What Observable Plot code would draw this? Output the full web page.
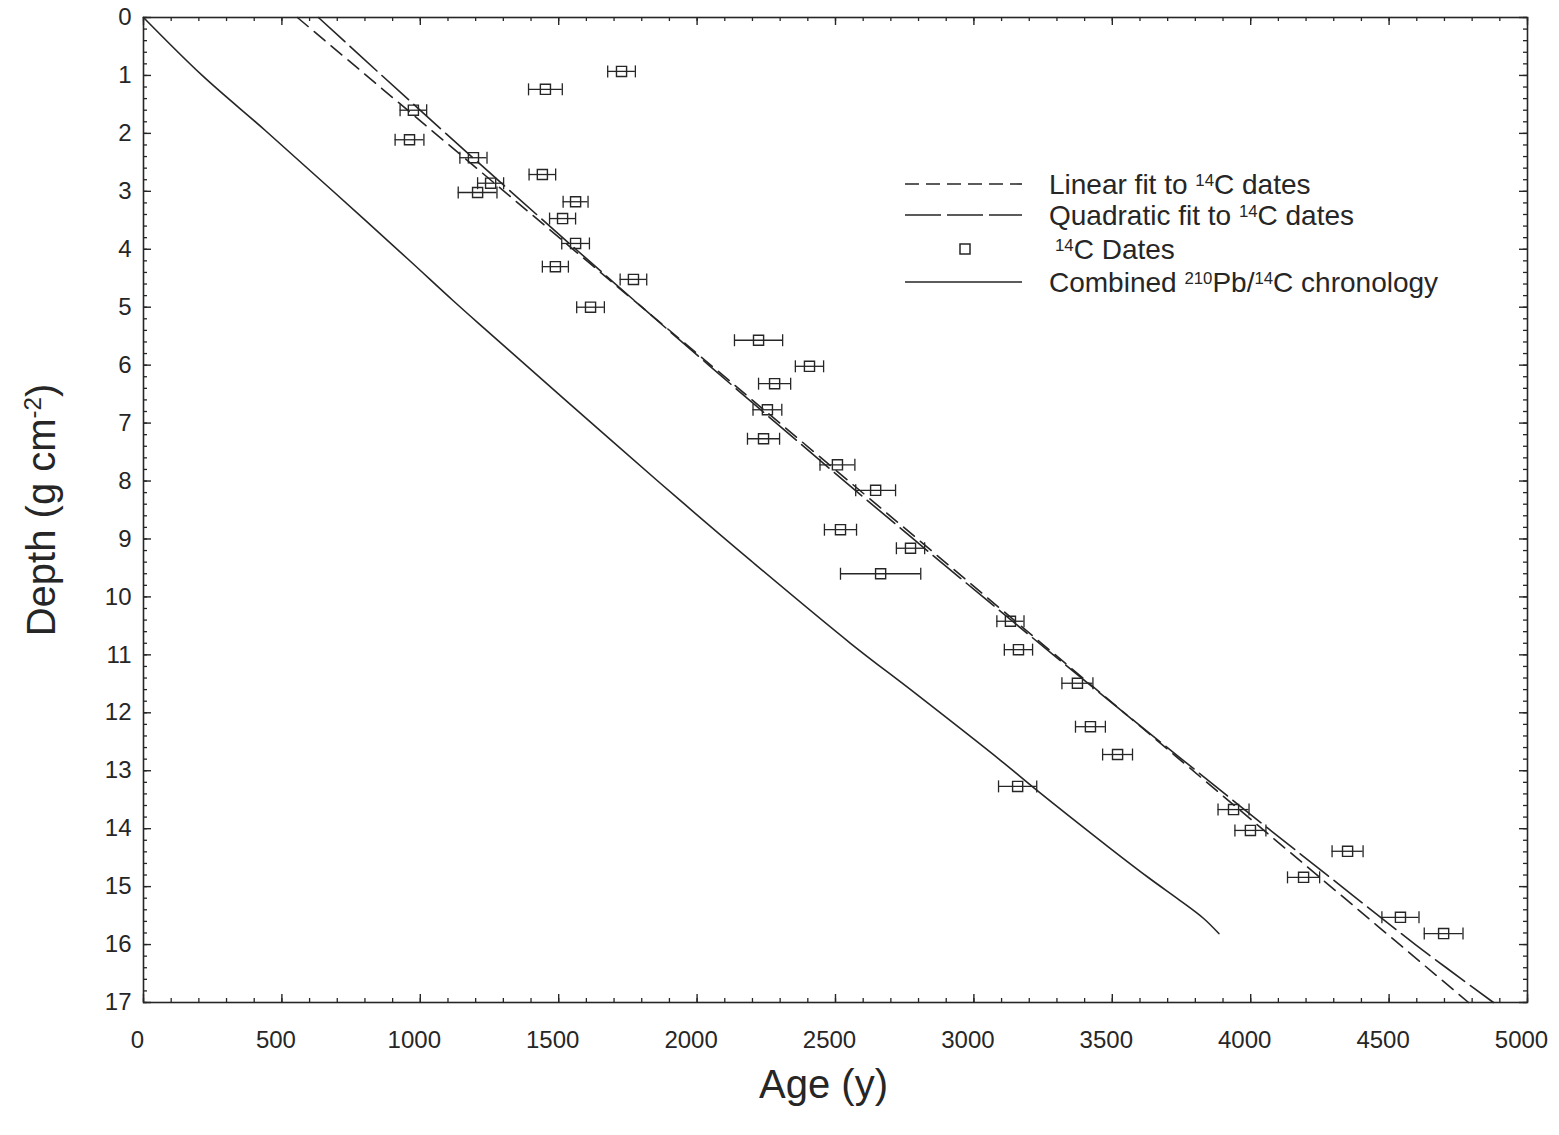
<!DOCTYPE html>
<html><head><meta charset="utf-8">
<script src="https://cdn.jsdelivr.net/npm/d3@7"></script>
<script src="https://cdn.jsdelivr.net/npm/@observablehq/plot@0.6"></script>
<style>
body{margin:0;background:#fff;}
#wrap{position:relative;width:1559px;height:1135px;overflow:hidden;}
#legend{position:absolute;left:0;top:0;pointer-events:none;}
</style></head><body><div id="wrap"></div>
<script>
// 14C dates: depth (g cm-2), age (y), half-width of error bar (y)
const c14Depth = [0.93, 1.24, 1.60, 2.11, 2.42, 2.71, 2.86, 3.02, 3.18, 3.47, 3.90, 4.30, 4.52, 5.00,
  5.57, 6.02, 6.32, 6.77, 7.27, 7.72, 8.16, 8.84, 9.16, 9.60, 10.42, 10.91, 11.49, 12.24, 12.72,
  13.27, 13.67, 14.03, 14.39, 14.84, 15.53, 15.81];
const c14Age = [1727, 1452, 975, 961, 1192, 1441, 1254, 1207, 1561, 1514, 1561, 1488, 1770, 1615,
  2222, 2406, 2280, 2254, 2240, 2507, 2645, 2518, 2771, 2663, 3132, 3161, 3374, 3421, 3519,
  3158, 3938, 3999, 4350, 4191, 4541, 4697];
const c14Err = [50, 61, 48, 52, 49, 48, 47, 70, 45, 47, 50, 47, 48, 50,
  87, 51, 58, 52, 58, 63, 72, 58, 51, 145, 49, 51, 56, 54, 54,
  69, 56, 56, 56, 58, 67, 70];

// Linear fit to 14C dates
const linearDepth = [0, 8.5, 17];
const linearAge = [556, 2672, 4787];
// Quadratic fit to 14C dates
const quadDepth = [0, 1, 2, 3, 4, 5, 6, 7, 8, 9, 10, 11, 12, 13, 14, 15, 16, 17];
const quadAge = [632, 861, 1092, 1326, 1562, 1801, 2042, 2286, 2532, 2781, 3033, 3287, 3543, 3803, 4064, 4329, 4595, 4877];
// Combined 210Pb/14C chronology
const combDepth = [0, 1.0, 1.95, 3.02, 4.19, 4.88, 5.37, 5.75, 7.30, 8.34, 9.37, 10.8, 11.67, 12.82, 13.27, 14.33, 14.86, 15.24, 15.55, 15.81];
const combAge = [0, 212, 440, 690, 960, 1117, 1232, 1322, 1690, 1940, 2193, 2554, 2790, 3096, 3210, 3490, 3635, 3745, 3830, 3885];

const xTickLabels = [0, 500, 1000, 1500, 2000, 2500, 3000, 3500, 4000, 4500, 5000];
const yTickLabels = [0, 1, 2, 3, 4, 5, 6, 7, 8, 9, 10, 11, 12, 13, 14, 15, 16, 17];

const dates = c14Depth.map((d, i) => ({depth: d, age: c14Age[i], err: c14Err[i]}));
const linear = linearDepth.map((d, i) => ({depth: d, age: linearAge[i]}));
const quad = quadDepth.map((d, i) => ({depth: d, age: quadAge[i]}));
const comb = combDepth.map((d, i) => ({depth: d, age: combAge[i]}));

const W = 1559, H = 1135, mL = 143, mR = 32, mT = 17, mB = 133;
const innerW = W - mL - mR, innerH = H - mT - mB;
const ink = "#262626";
const tickFont = "'Liberation Sans Narrow','Arial Narrow','Liberation Sans',Arial,sans-serif";
const mainFont = "'Liberation Sans',Arial,Helvetica,sans-serif";

const minorX = d3.range(0, 5001, 100);
const minorY = d3.range(0, 17.001, 0.2);

const capSymbol = {draw(ctx) { ctx.moveTo(0, -6); ctx.lineTo(0, 6); }};

const chart = Plot.plot({
  width: W, height: H,
  marginLeft: mL, marginRight: mR, marginTop: mT, marginBottom: mB,
  style: {fontFamily: mainFont, background: "#fff", color: ink},
  x: {domain: [0, 5000]},
  y: {domain: [0, 17], reverse: true},
  marks: [
    // inward ticks on all four sides
    Plot.tickX(minorX, {x: d => d, insetTop: innerH - 4, stroke: ink, strokeWidth: 1.3}),
    Plot.tickX(minorX, {x: d => d, insetBottom: innerH - 4, stroke: ink, strokeWidth: 1.3}),
    Plot.tickX(xTickLabels, {x: d => d, insetTop: innerH - 8, stroke: ink, strokeWidth: 1.4}),
    Plot.tickX(xTickLabels, {x: d => d, insetBottom: innerH - 8, stroke: ink, strokeWidth: 1.4}),
    Plot.tickY(minorY, {y: d => d, insetRight: innerW - 4, stroke: ink, strokeWidth: 1.3}),
    Plot.tickY(minorY, {y: d => d, insetLeft: innerW - 4, stroke: ink, strokeWidth: 1.3}),
    Plot.tickY(yTickLabels, {y: d => d, insetRight: innerW - 8, stroke: ink, strokeWidth: 1.4}),
    Plot.tickY(yTickLabels, {y: d => d, insetLeft: innerW - 8, stroke: ink, strokeWidth: 1.4}),
    Plot.axisX({ticks: xTickLabels, tickFormat: d => String(d), tickSize: 0, tickPadding: 28, dx: -6, label: null,
      fontSize: 24, fontFamily: tickFont, fill: ink}),
    Plot.axisY({ticks: yTickLabels, tickFormat: d => String(d), tickSize: 0, tickPadding: 12, label: null,
      fontSize: 24, fontFamily: tickFont, fill: ink}),
    Plot.frame({stroke: ink, strokeWidth: 1.6}),
    // curves
    Plot.line(comb, {x: "age", y: "depth", stroke: ink, strokeWidth: 1.6, curve: "catmull-rom"}),
    Plot.line(linear, {x: "age", y: "depth", stroke: ink, strokeWidth: 1.6, strokeDasharray: "14,8"}),
    Plot.line(quad, {x: "age", y: "depth", stroke: ink, strokeWidth: 1.6, strokeDasharray: "36,7", curve: "catmull-rom"}),
    // 14C dates with error bars
    Plot.ruleY(dates, {y: "depth", x1: d => d.age - d.err, x2: d => d.age + d.err, stroke: ink, strokeWidth: 1.3}),
    Plot.dot(dates, {x: d => d.age - d.err, y: "depth", symbol: capSymbol, r: 3, stroke: ink, strokeWidth: 1.3}),
    Plot.dot(dates, {x: d => d.age + d.err, y: "depth", symbol: capSymbol, r: 3, stroke: ink, strokeWidth: 1.3}),
    Plot.dot(dates, {x: "age", y: "depth", symbol: "square", r: 5.7, stroke: ink, fill: "none", strokeWidth: 1.4}),
    // axis titles
    Plot.text(["Age (y)"], {frameAnchor: "bottom", dx: -12, dy: 95, lineAnchor: "bottom", fontSize: 40, fill: ink}),
    Plot.text(["Depth (g cm-2)"], {frameAnchor: "left", dx: -101, rotate: -90, textAnchor: "middle", fontSize: 40, fill: ink})
  ]
});

// superscript in the y title
d3.select(chart).selectAll("text").each(function() {
  if (this.textContent === "Depth (g cm-2)") {
    const t = d3.select(this);
    t.text(null);
    t.append("tspan").text("Depth (g cm");
    t.append("tspan").attr("dy", "-0.6em").attr("font-size", "0.6em").text("-2");
    t.append("tspan").attr("dy", "0.36em").text(")");
  }
});

const wrap = document.getElementById("wrap");
wrap.appendChild(chart);

// legend inside the plot area
const legend = d3.select(wrap).append("svg").attr("id", "legend")
  .attr("width", W).attr("height", H)
  .style("font-family", mainFont).style("font-size", "28px").attr("fill", ink);
const rows = [
  {y: 184, kind: "dash", dash: "14,7", parts: [["Linear fit to ", 0], ["14", 1], ["C dates", 0]]},
  {y: 215, kind: "dash", dash: "36,6", parts: [["Quadratic fit to ", 0], ["14", 1], ["C dates", 0]]},
  {y: 249, kind: "square", parts: [["14", 1], ["C Dates", 0]], indent: 6},
  {y: 282, kind: "solid", parts: [["Combined ", 0], ["210", 1], ["Pb/", 0], ["14", 1], ["C chronology", 0]]}
];
rows.forEach(r => {
  if (r.kind === "square") {
    legend.append("rect").attr("x", 960).attr("y", r.y - 5).attr("width", 10).attr("height", 10)
      .attr("fill", "none").attr("stroke", ink).attr("stroke-width", 1.5);
  } else {
    legend.append("line").attr("x1", 905).attr("x2", 1022).attr("y1", r.y).attr("y2", r.y)
      .attr("stroke", ink).attr("stroke-width", 1.6).attr("stroke-dasharray", r.kind === "dash" ? r.dash : null);
  }
  const t = legend.append("text").attr("x", 1049 + (r.indent || 0)).attr("y", r.y + 10);
  let sup = false;
  r.parts.forEach(([s, isSup]) => {
    const ts = t.append("tspan").text(s);
    if (isSup && !sup) { ts.attr("dy", "-0.45em").attr("font-size", "0.6em"); sup = true; }
    else if (!isSup && sup) { ts.attr("dy", "0.27em"); sup = false; }
  });
});
</script></body></html>
